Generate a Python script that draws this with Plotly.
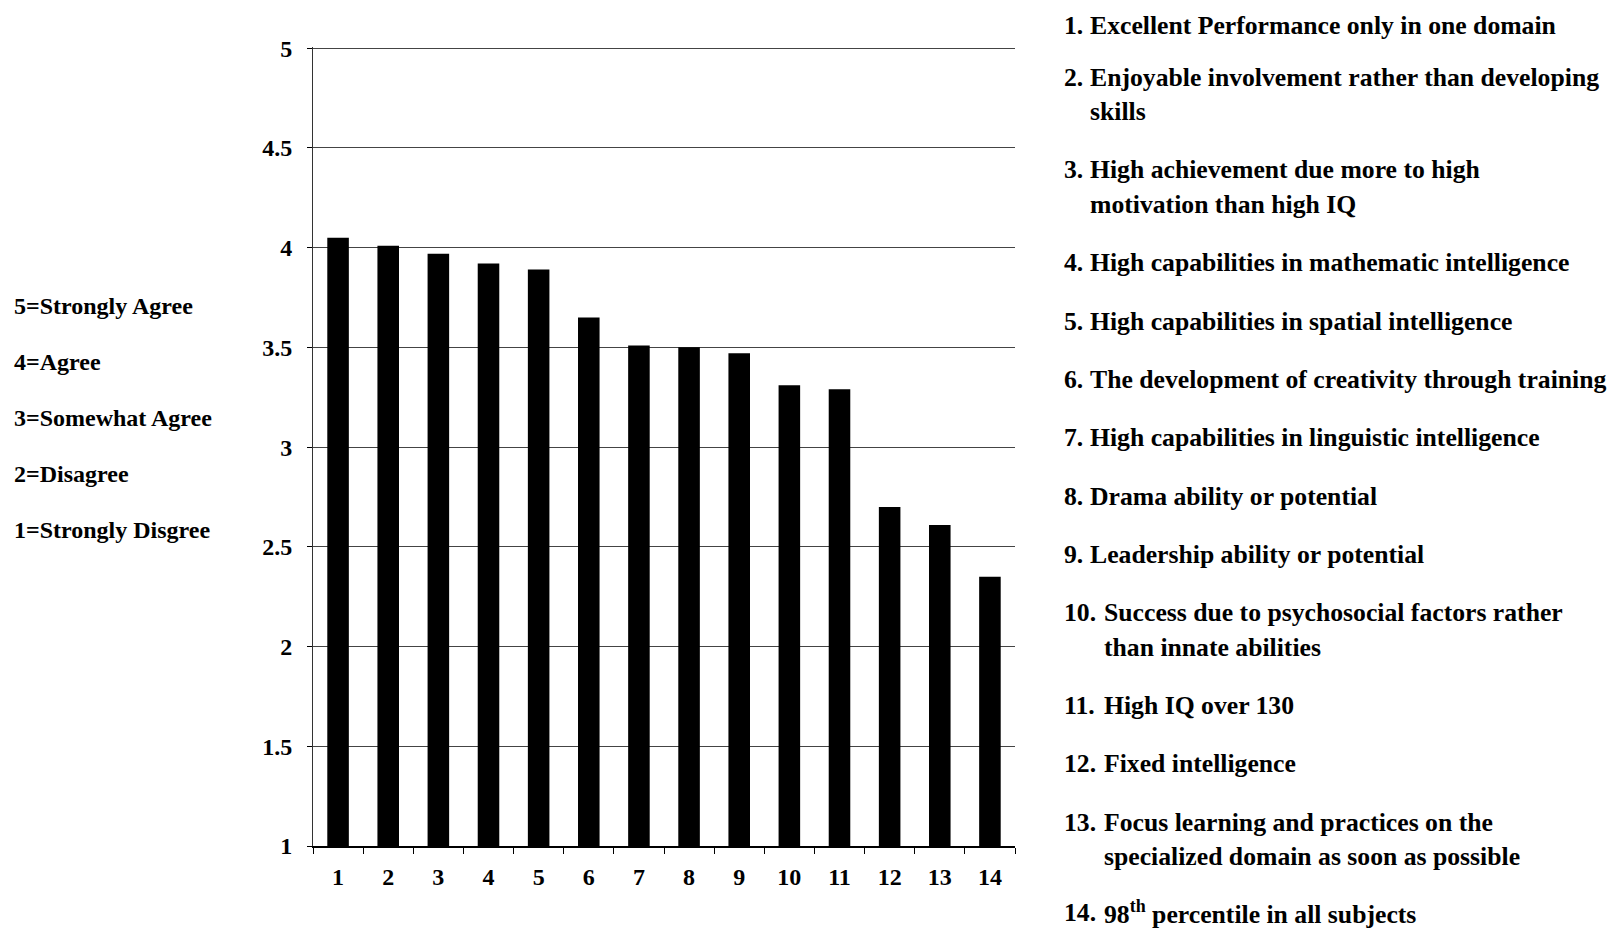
import plotly.graph_objects as go

# ---- data ----
categories = [str(i) for i in range(1, 15)]
mean_scores = [4.05, 4.01, 3.97, 3.92, 3.89, 3.65, 3.51, 3.50, 3.47, 3.31, 3.29, 2.70, 2.61, 2.35]
y_tick_values = [1, 1.5, 2, 2.5, 3, 3.5, 4, 4.5, 5]
y_tick_labels = ["1", "1.5", "2", "2.5", "3", "3.5", "4", "4.5", "5"]

scale_labels = ["5=Strongly Agree", "4=Agree", "3=Somewhat Agree", "2=Disagree", "1=Strongly Disgree"]

item_numbers = [f"{i}." for i in range(1, 15)]
item_lines = [
    ["Excellent Performance only in one domain"],
    ["Enjoyable involvement rather than developing", "skills"],
    ["High achievement due more to high", "motivation than high IQ"],
    ["High capabilities in mathematic intelligence"],
    ["High capabilities in spatial intelligence"],
    ["The development of creativity through training"],
    ["High capabilities in linguistic intelligence"],
    ["Drama ability or potential"],
    ["Leadership ability or potential"],
    ["Success due to psychosocial factors rather", "than innate abilities"],
    ["High IQ over 130"],
    ["Fixed intelligence"],
    ["Focus learning and practices on the", "specialized domain as soon as possible"],
    ["98<sup>th</sup> percentile in all subjects"],
]

# ---- layout constants (page pixels; the page body adds an 8px offset) ----
OFF = 8
PAGE_W, PAGE_H = 1623, 929
W, H = PAGE_W - OFF, PAGE_H - OFF
L, R, T, B = 313, 1015, 47, 846   # plot area in page pixels
FONT = "Liberation Serif, Times New Roman, serif"
LEG_SIZE = 25.7
HALF_BOX = 17


def px(x):
    return (x - L) / (R - L)


def py(y):
    # keep the text box inside the visible page
    y = max(OFF + HALF_BOX, min(PAGE_H - HALF_BOX, y))
    return (B - y) / (B - T)


fig = go.Figure()
fig.add_trace(go.Bar(
    x=categories, y=mean_scores,
    marker=dict(color="black", line=dict(width=0)),
    width=0.43,
    hoverinfo="x+y",
))

annotations = []
# left scale legend
for i, lab in enumerate(scale_labels):
    annotations.append(dict(
        text=lab, x=px(13), y=py(306 + 56 * i), xref="paper", yref="paper",
        xanchor="left", yanchor="middle", showarrow=False, borderpad=0,
        font=dict(family=FONT, size=24, color="black", weight="bold"),
    ))

# right item legend
ycur = 19
for n, (num, lines) in enumerate(zip(item_numbers, item_lines)):
    indent = 1089 if n < 9 else 1103
    annotations.append(dict(
        text=num, x=px(1063), y=py(ycur), xref="paper", yref="paper",
        xanchor="left", yanchor="middle", showarrow=False, borderpad=0,
        font=dict(family=FONT, size=LEG_SIZE, color="black", weight="bold"),
    ))
    for k, line in enumerate(lines):
        annotations.append(dict(
            text=line, x=px(indent), y=py(ycur + 34.2 * k), xref="paper", yref="paper",
            xanchor="left", yanchor="middle", showarrow=False, borderpad=0,
            font=dict(family=FONT, size=LEG_SIZE, color="black", weight="bold"),
        ))
    ycur += 34.2 * (len(lines) - 1) + 58.4

fig.update_layout(
    width=W, height=H,
    margin=dict(l=L - OFF, r=W - (R - OFF), t=T - OFF, b=H - (B - OFF), pad=0),
    paper_bgcolor="white", plot_bgcolor="white",
    showlegend=False,
    bargap=0.57,
    annotations=annotations,
    xaxis=dict(
        type="category", range=[-0.5, 13.5],
        showline=True, linecolor="black", linewidth=1.5,
        ticks="outside", tickson="boundaries", ticklen=6, tickcolor="black",
        tickfont=dict(family=FONT, size=24, color="black", weight="bold"),
        ticklabelstandoff=8,
        showgrid=False, zeroline=False,
    ),
    yaxis=dict(
        range=[1, 5.006], tickvals=y_tick_values, ticktext=y_tick_labels,
        showline=True, linecolor="#333333", linewidth=1,
        ticks="outside", ticklen=5, tickcolor="black",
        tickfont=dict(family=FONT, size=24, color="black", weight="bold"),
        ticklabelstandoff=10,
        showgrid=True, gridcolor="#444444", gridwidth=1,
        zeroline=False,
    ),
)

fig.write_html("out.html")
